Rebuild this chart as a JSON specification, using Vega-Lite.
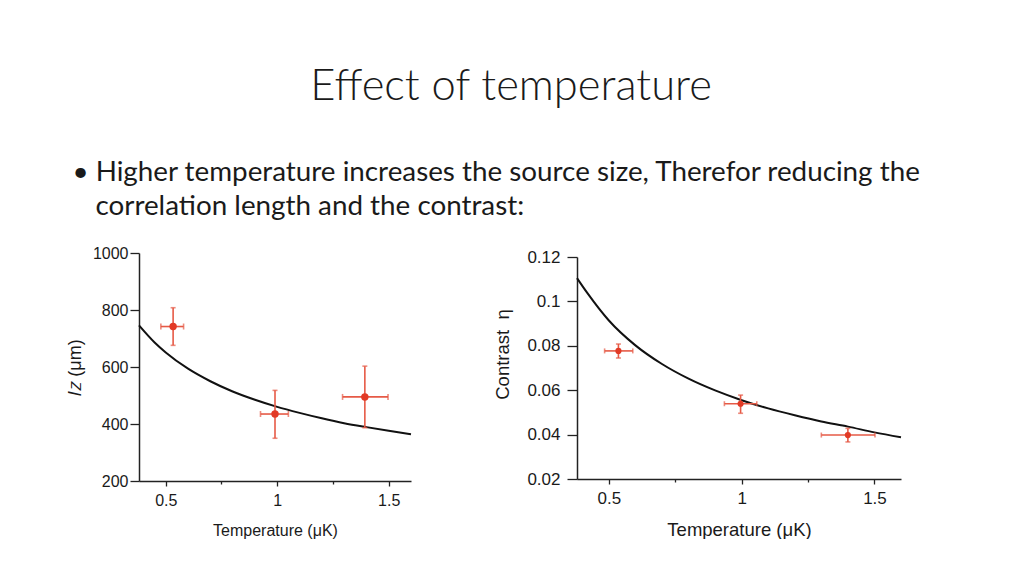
{
  "$schema": "https://vega.github.io/schema/vega-lite/v6.json",
  "background": "white",
  "padding": {"left": 66, "top": 64, "right": 0, "bottom": 0},
  "datasets": {
    "curve1": [
      {"t": 0.38, "v": 746}, {"t": 0.45, "v": 686}, {"t": 0.5, "v": 651}, {"t": 0.6, "v": 594},
      {"t": 0.7, "v": 550}, {"t": 0.8, "v": 514}, {"t": 0.9, "v": 485}, {"t": 1.0, "v": 460},
      {"t": 1.1, "v": 439}, {"t": 1.2, "v": 420}, {"t": 1.3, "v": 403}, {"t": 1.4, "v": 389},
      {"t": 1.5, "v": 376}, {"t": 1.6, "v": 364}
    ],
    "pts1": [
      {"t": 0.533, "v": 742, "tlo": 0.478, "thi": 0.58, "vlo": 676, "vhi": 808},
      {"t": 0.99, "v": 435, "tlo": 0.925, "thi": 1.05, "vlo": 350, "vhi": 518},
      {"t": 1.393, "v": 495, "tlo": 1.293, "thi": 1.497, "vlo": 387, "vhi": 603}
    ],
    "curve2": [
      {"t": 0.38, "v": 0.1105}, {"t": 0.42, "v": 0.1036}, {"t": 0.5, "v": 0.0914}, {"t": 0.6, "v": 0.0802},
      {"t": 0.7, "v": 0.0718}, {"t": 0.8, "v": 0.0652}, {"t": 0.9, "v": 0.0599}, {"t": 1.0, "v": 0.0555},
      {"t": 1.1, "v": 0.0518}, {"t": 1.2, "v": 0.0487}, {"t": 1.3, "v": 0.0459}, {"t": 1.4, "v": 0.0436},
      {"t": 1.5, "v": 0.041}, {"t": 1.6, "v": 0.0388}
    ],
    "pts2": [
      {"t": 0.536, "v": 0.0777, "tlo": 0.484, "thi": 0.59, "vlo": 0.0745, "vhi": 0.0808},
      {"t": 0.996, "v": 0.0539, "tlo": 0.935, "thi": 1.057, "vlo": 0.0496, "vhi": 0.0578},
      {"t": 1.4, "v": 0.0398, "tlo": 1.3, "thi": 1.502, "vlo": 0.0367, "vhi": 0.0428}
    ]
  },
  "title": {
    "text": "Effect of temperature",
    "font": "Lato",
    "fontSize": 43.5,
    "fontWeight": 300,
    "color": "#1a1a1a",
    "anchor": "middle",
    "dx": 17,
    "offset": 50
  },
  "vconcat": [
    {
      "title": {
        "text": ["•\u00a0Higher temperature increases the source size, Therefor reducing the", "\u200b\u00a0\u00a0\u00a0\u200acorrelation length and the contrast:"],
        "font": "Lato",
        "fontSize": 27.8,
        "fontWeight": "normal",
        "color": "#1a1a1a",
        "lineHeight": 34,
        "anchor": "start",
        "dx": 6,
        "offset": 24
      },
      "spacing": 78,
      "bounds": "full",
      "hconcat": [
        {
          "width": 272,
          "height": 228,
          "layer": [
            {
              "data": {"name": "curve1"},
              "mark": {"type": "line", "color": "#111111", "strokeWidth": 2, "interpolate": "monotone"},
              "encoding": {
                "x": {
                  "field": "t", "type": "quantitative",
                  "scale": {"domain": [0.38, 1.6], "nice": false, "zero": false},
                  "axis": {
                    "title": "Temperature (μK)",
                    "values": [0.5, 0.75, 1, 1.25, 1.5],
                    "labelExpr": "(datum.value*4) % 2 === 0 ? format(datum.value, '~g') : ''",
                    "tickSize": {"condition": {"test": "(datum.value*4) % 2 === 0", "value": 5}, "value": 3},
                    "labelFontSize": 16,
                    "titleFontSize": 16,
                    "labelPadding": 6,
                    "titlePadding": 14
                  }
                },
                "y": {
                  "field": "v", "type": "quantitative",
                  "scale": {"domain": [200, 1000], "nice": false, "zero": false},
                  "axis": {
                    "title": "𝑙𝑧 (μm)",
                    "values": [200, 300, 400, 500, 600, 700, 800, 900, 1000],
                    "labelExpr": "datum.value % 200 === 0 ? format(datum.value, 'd') : ''",
                    "tickSize": {"condition": {"test": "datum.value % 200 === 0", "value": 9}, "value": 4},
                    "labelFontSize": 16,
                    "titleFontSize": 18,
                    "labelPadding": 2,
                    "titlePadding": 8
                  }
                }
              }
            },
            {
              "data": {"name": "pts1"},
              "mark": {"type": "rule", "color": "#e65a46", "strokeWidth": 1.6},
              "encoding": {"x": {"field": "tlo", "type": "quantitative"}, "x2": {"field": "thi"}, "y": {"field": "v", "type": "quantitative"}}
            },
            {
              "data": {"name": "pts1"},
              "mark": {"type": "rule", "color": "#e65a46", "strokeWidth": 1.6},
              "encoding": {"x": {"field": "t", "type": "quantitative"}, "y": {"field": "vlo", "type": "quantitative"}, "y2": {"field": "vhi"}}
            },
            {
              "data": {"name": "pts1"},
              "mark": {"type": "tick", "orient": "vertical", "color": "#e65a46", "size": 6, "thickness": 1.6},
              "encoding": {"x": {"field": "tlo", "type": "quantitative"}, "y": {"field": "v", "type": "quantitative"}}
            },
            {
              "data": {"name": "pts1"},
              "mark": {"type": "tick", "orient": "vertical", "color": "#e65a46", "size": 6, "thickness": 1.6},
              "encoding": {"x": {"field": "thi", "type": "quantitative"}, "y": {"field": "v", "type": "quantitative"}}
            },
            {
              "data": {"name": "pts1"},
              "mark": {"type": "tick", "orient": "horizontal", "color": "#e65a46", "size": 5, "thickness": 1.6},
              "encoding": {"x": {"field": "t", "type": "quantitative"}, "y": {"field": "vlo", "type": "quantitative"}}
            },
            {
              "data": {"name": "pts1"},
              "mark": {"type": "tick", "orient": "horizontal", "color": "#e65a46", "size": 5, "thickness": 1.6},
              "encoding": {"x": {"field": "t", "type": "quantitative"}, "y": {"field": "vhi", "type": "quantitative"}}
            },
            {
              "data": {"name": "pts1"},
              "mark": {"type": "circle", "color": "#e23a26", "opacity": 1, "size": 55},
              "encoding": {"x": {"field": "t", "type": "quantitative"}, "y": {"field": "v", "type": "quantitative"}}
            }
          ]
        },
        {
          "width": 324,
          "height": 226,
          "layer": [
            {
              "data": {"name": "curve2"},
              "mark": {"type": "line", "color": "#111111", "strokeWidth": 2, "interpolate": "monotone"},
              "encoding": {
                "x": {
                  "field": "t", "type": "quantitative",
                  "scale": {"domain": [0.38, 1.6], "nice": false, "zero": false},
                  "axis": {
                    "title": "Temperature (μK)",
                    "values": [0.5, 0.75, 1, 1.25, 1.5],
                    "labelExpr": "(datum.value*4) % 2 === 0 ? format(datum.value, '~g') : ''",
                    "tickSize": {"condition": {"test": "(datum.value*4) % 2 === 0", "value": 5}, "value": 3},
                    "labelFontSize": 17,
                    "titleFontSize": 18.5,
                    "labelPadding": 6,
                    "titlePadding": 14
                  }
                },
                "y": {
                  "field": "v", "type": "quantitative",
                  "scale": {"domain": [0.02, 0.12], "nice": false, "zero": false, "range": [226, 4]},
                  "axis": {
                    "title": "Contrast\u00a0\u00a0η",
                    "values": [0.02, 0.03, 0.04, 0.05, 0.06, 0.07, 0.08, 0.09, 0.1, 0.11, 0.12],
                    "labelExpr": "round(datum.value*100) % 2 === 0 ? format(datum.value, '~g') : ''",
                    "tickSize": {"condition": {"test": "round(datum.value*100) % 2 === 0", "value": 10}, "value": 4},
                    "labelFontSize": 17,
                    "titleFontSize": 18.5,
                    "titleY": 101,
                    "labelPadding": 7,
                    "titlePadding": 14
                  }
                }
              }
            },
            {
              "data": {"name": "pts2"},
              "mark": {"type": "rule", "color": "#e65a46", "strokeWidth": 1.6},
              "encoding": {"x": {"field": "tlo", "type": "quantitative"}, "x2": {"field": "thi"}, "y": {"field": "v", "type": "quantitative"}}
            },
            {
              "data": {"name": "pts2"},
              "mark": {"type": "rule", "color": "#e65a46", "strokeWidth": 1.6},
              "encoding": {"x": {"field": "t", "type": "quantitative"}, "y": {"field": "vlo", "type": "quantitative"}, "y2": {"field": "vhi"}}
            },
            {
              "data": {"name": "pts2"},
              "mark": {"type": "tick", "orient": "vertical", "color": "#e65a46", "size": 5, "thickness": 1.6},
              "encoding": {"x": {"field": "tlo", "type": "quantitative"}, "y": {"field": "v", "type": "quantitative"}}
            },
            {
              "data": {"name": "pts2"},
              "mark": {"type": "tick", "orient": "vertical", "color": "#e65a46", "size": 5, "thickness": 1.6},
              "encoding": {"x": {"field": "thi", "type": "quantitative"}, "y": {"field": "v", "type": "quantitative"}}
            },
            {
              "data": {"name": "pts2"},
              "mark": {"type": "tick", "orient": "horizontal", "color": "#e65a46", "size": 5, "thickness": 1.6},
              "encoding": {"x": {"field": "t", "type": "quantitative"}, "y": {"field": "vlo", "type": "quantitative"}}
            },
            {
              "data": {"name": "pts2"},
              "mark": {"type": "tick", "orient": "horizontal", "color": "#e65a46", "size": 5, "thickness": 1.6},
              "encoding": {"x": {"field": "t", "type": "quantitative"}, "y": {"field": "vhi", "type": "quantitative"}}
            },
            {
              "data": {"name": "pts2"},
              "mark": {"type": "circle", "color": "#e23a26", "opacity": 1, "size": 38},
              "encoding": {"x": {"field": "t", "type": "quantitative"}, "y": {"field": "v", "type": "quantitative"}}
            }
          ]
        }
      ]
    }
  ],
  "config": {
    "view": {"stroke": null},
    "axis": {
      "grid": false,
      "domainColor": "#222222",
      "domainWidth": 1.5,
      "tickColor": "#222222",
      "tickWidth": 1.3,
      "labelColor": "#1a1a1a",
      "titleColor": "#1a1a1a",
      "labelFont": "Liberation Sans",
      "titleFont": "Liberation Sans",
      "titleFontWeight": "normal"
    }
  }
}
